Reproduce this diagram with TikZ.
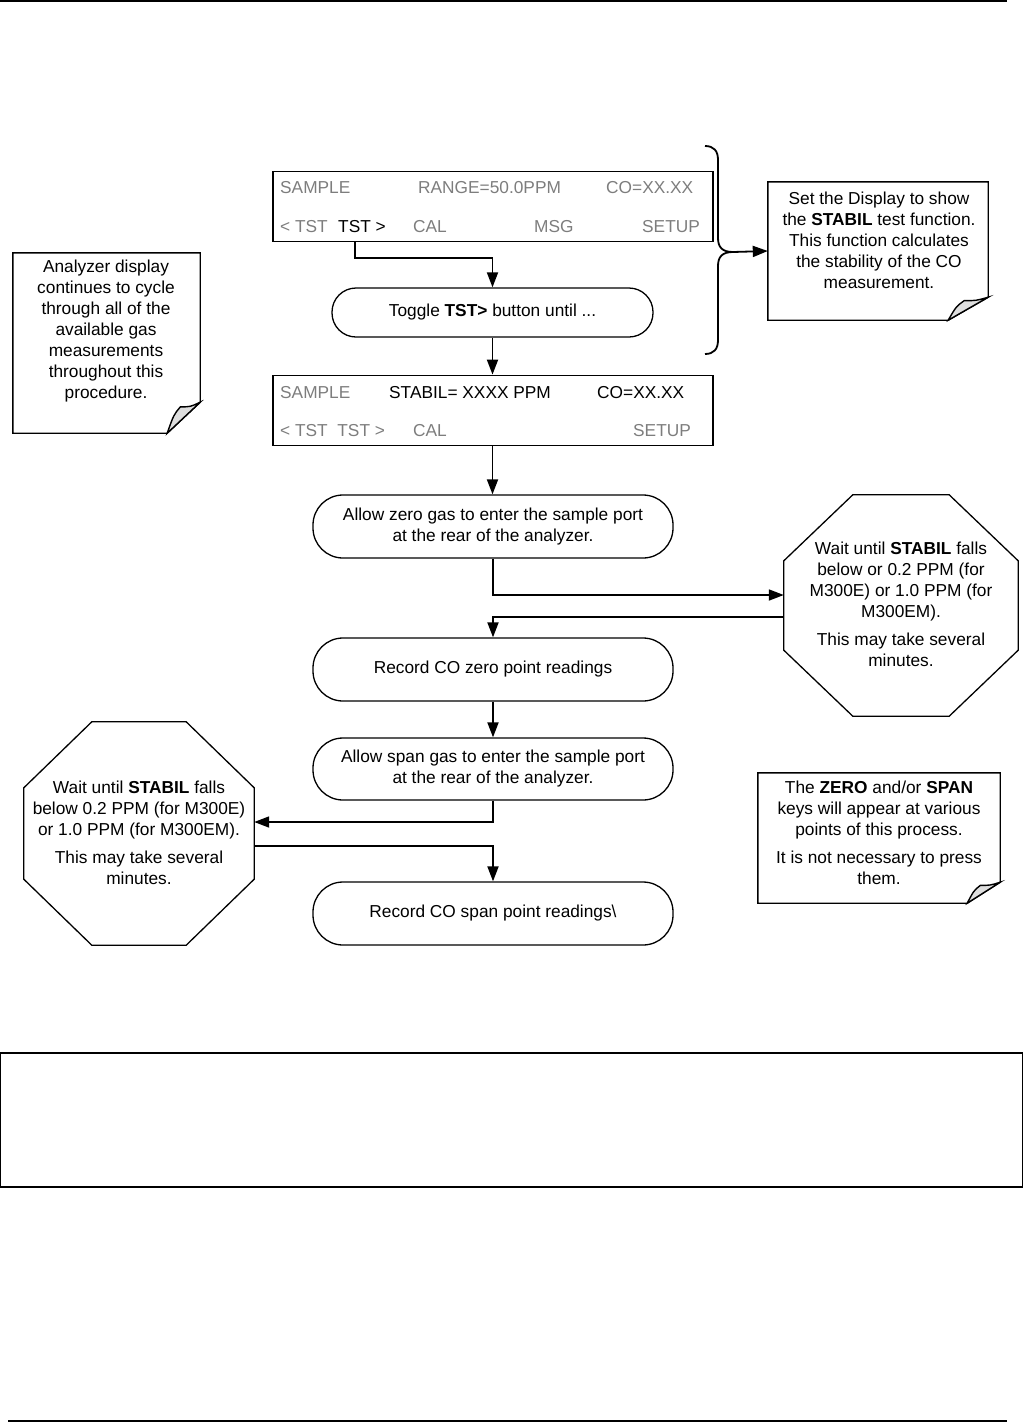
\documentclass[tikz,border=0pt]{standalone}
\usepackage{fontspec}
\setmainfont{Liberation Sans}
\usetikzlibrary{arrows.meta,calc}
\definecolor{dispgray}{RGB}{125,125,125}
\definecolor{foldgray}{RGB}{222,222,222}
\newcommand\foldnote[3]{%
  \draw[notebd] (#1.north west) -- (#1.north east) -- ($(#1.south east)+(0pt,#2)$)
     -- ($(#1.south east)+(-#3,0pt)$) -- (#1.south west) -- cycle;
  \filldraw[notebd,fill=foldgray] ($(#1.south east)+(0pt,#2)$)
     .. controls ($(#1.south east)+(-0.3*#3,0.85*#2)$) .. ($(#1.south east)+(-0.6*#3,0.85*#2)$)
     .. controls ($(#1.south east)+(-0.8*#3,0.6*#2)$) .. ($(#1.south east)+(-#3,0pt)$) -- cycle;}
\newcommand\octagonpath[3]{%
  \draw[shapebd] ($(#1.north west)+(#2,0pt)$) -- ($(#1.north east)+(-#2,0pt)$)
    -- ($(#1.north east)+(0pt,-#3)$) -- ($(#1.south east)+(0pt,#3)$)
    -- ($(#1.south east)+(-#2,0pt)$) -- ($(#1.south west)+(#2,0pt)$)
    -- ($(#1.south west)+(0pt,#3)$) -- ($(#1.north west)+(0pt,-#3)$) -- cycle;}
\begin{document}
\begin{tikzpicture}[x=1pt,y=-1pt,
  txt/.style={font=\fontsize{17.3}{21}\selectfont, align=center, inner sep=0pt},
  dtxt/.style={font=\fontsize{17.3}{21}\selectfont, inner sep=0pt, anchor=base west},
  dg/.style={dtxt, text=dispgray},
  dk/.style={dtxt, text=black},
  disp/.style={draw, line width=1.8pt, minimum width=440pt, minimum height=70pt, inner sep=0pt},
  stad/.style={draw, line width=1.3pt, txt, minimum width=360pt, minimum height=63pt, rounded corners=30pt},
  box/.style={inner sep=0pt},
  notebd/.style={line width=1.4pt, line join=miter},
  shapebd/.style={line width=1.3pt},
  conn/.style={line width=1.8pt, -{Triangle[length=15pt,width=11pt]}},
  plain/.style={line width=1.8pt}]
\useasboundingbox (0,0) rectangle (1023,1422);
% page rules
\draw[line width=2pt] (0,1) -- (1007,1);
\draw[line width=2pt] (8,1421) -- (1007,1421);
\draw[line width=1.4pt] (0.7,1053) rectangle (1022.3,1187);

% display 1
\node[disp] (d1) at (493,206.5) {};
\node[dg] (d1a) at (280,193) {SAMPLE};
\node[dg] (d1b) at (418,193) {RANGE=50.0PPM};
\node[dg] (d1c) at (606,193) {CO=XX.XX};
\node[dg] (d1d) at (280,232) {< TST};
\node[dk] (d1e) at (338,232) {TST >};
\node[dg] (d1f) at (413,232) {CAL};
\node[dg] (d1g) at (534,232) {MSG};
\node[dg] (d1h) at (642,232) {SETUP};
\coordinate (tstbot) at (355,242);

% toggle
\node[stad, minimum width=321pt, minimum height=49pt, rounded corners=24pt] (toggle) at (492.5,312.5) {Toggle \textbf{TST>} button until ...};

% display 2
\node[disp] (d2) at (493,410.5) {};
\node[dg] (d2a) at (280,398) {SAMPLE};
\node[dk] (d2b) at (389,398) {STABIL= XXXX PPM};
\node[dk] (d2c) at (597,398) {CO=XX.XX};
\node[dg] (d2d) at (280,436) {< TST\ \ TST >};
\node[dg] (d2f) at (413,436) {CAL};
\node[dg] (d2h) at (633,436) {SETUP};

% process boxes
\node[stad] (zero) at (493,526.5) {Allow zero gas to enter the sample port\\at the rear of the analyzer.};
\node[stad] (rzero) at (493,669.5) {Record CO zero point readings};
\node[stad, minimum height=62pt] (span) at (493,769) {Allow span gas to enter the sample port\\at the rear of the analyzer.};
\node[stad] (rspan) at (493,913.5) {Record CO span point readings\textbackslash};

% octagons
\node[box, minimum width=234pt, minimum height=221pt] (oct1) at (901,605.5) {};
\octagonpath{oct1}{69pt}{66pt}
\node[txt] (oct1t) at (901,604) {Wait until \textbf{STABIL} falls\\below or 0.2 PPM (for\\M300E) or 1.0 PPM (for\\M300EM).\\[7pt]This may take several\\minutes.};
\node[box, minimum width=230pt, minimum height=223pt] (oct2) at (139,833.5) {};
\octagonpath{oct2}{68pt}{66pt}
\node[txt] (oct2t) at (139,833) {Wait until \textbf{STABIL} falls\\below 0.2 PPM (for M300E)\\or 1.0 PPM (for M300EM).\\[7pt]This may take several\\minutes.};

% notes
\node[box, minimum width=220pt, minimum height=138pt] (note1) at (878,251) {};
\foldnote{note1}{23pt}{40pt}
\node[txt] (note1t) at (879,240) {Set the Display to show\\the \textbf{STABIL} test function.\\This function calculates\\the stability of the CO\\measurement.};
\node[box, minimum width=187pt, minimum height=180pt] (note2) at (106.5,343) {};
\foldnote{note2}{31pt}{33pt}
\node[txt] (note2t) at (106,331) {Analyzer display\\continues to cycle\\through all of the\\available gas\\measurements\\throughout this\\procedure.};
\node[box, minimum width=242pt, minimum height=130pt] (note3) at (879,838) {};
\foldnote{note3}{21pt}{33pt}
\node[txt] (note3t) at (879,833) {The \textbf{ZERO} and/or \textbf{SPAN}\\keys will appear at various\\points of this process.\\[7pt]It is not necessary to press\\them.};

% brace
\draw[plain] (705,146) .. controls (714,146) and (718,151) .. (718,160) -- (718,238)
  .. controls (718,247) and (722,252) .. (733,252)
  .. controls (722,252) and (718,257) .. (718,266) -- (718,340)
  .. controls (718,349) and (714,354) .. (705,354);
\coordinate (bracetip) at (733,252);

% connectors
\draw[conn] (tstbot) -- ++(0,16) -| (toggle.north);
\draw[conn] (toggle.south) -- (d2.north -| toggle.south);
\draw[conn] (d2.south -| toggle.south) -- (zero.north -| toggle.south);
\draw[conn] (zero.south) |- ([yshift=10.5pt]oct1.west);
\draw[conn] ([yshift=-11.5pt]oct1.west) -| (rzero.north);
\draw[conn] (rzero.south) -- (span.north);
\draw[conn] (span.south) |- ([yshift=11.5pt]oct2.east);
\draw[conn] ([yshift=-12.5pt]oct2.east) -| (rspan.north);
\draw[conn] (bracetip) -- (note1.west);
\end{tikzpicture}
\end{document}
